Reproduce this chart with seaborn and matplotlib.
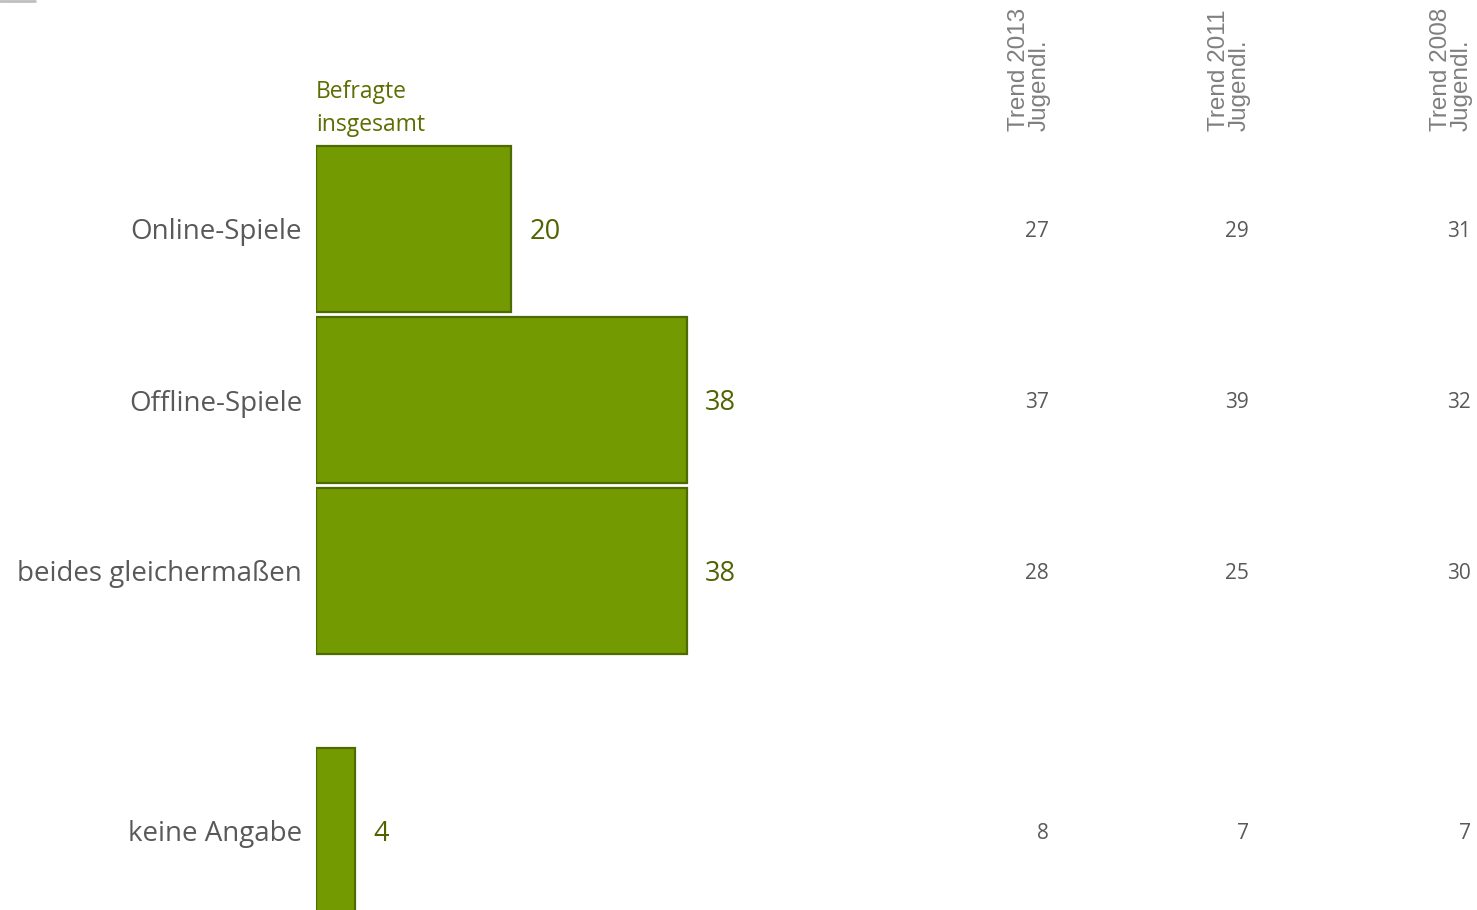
import matplotlib
matplotlib.use("Agg")
import matplotlib.pyplot as plt
import seaborn as sns
import pandas as pd
from matplotlib.lines import Line2D

# Data
categories = ["Online-Spiele", "Offline-Spiele", "beides gleichermaßen", "keine Angabe"]
befragte = [20, 38, 38, 4]
row_pos = [0, 1, 2, 3.52]   # keine Angabe sits a bit lower, as in the original
trend_headers = ["Trend 2013\nJugendl.", "Trend 2011\nJugendl.", "Trend 2008\nJugendl."]
trend_2013 = [27, 37, 28, 8]
trend_2011 = [29, 39, 25, 7]
trend_2008 = [31, 32, 30, 7]

df = pd.DataFrame({"Kategorie": categories, "Wert": befragte, "pos": row_pos})

sns.set_style("white")
plt.rcParams["font.family"] = ["Open Sans", "DejaVu Sans"]

W, H = 1477, 910
fig = plt.figure(figsize=(W / 100, H / 100), dpi=100)
ax = fig.add_axes([316 / W, 0, 1 - 316 / W, 1])

sns.barplot(data=df, x="Wert", y="pos", orient="h", native_scale=True,
            width=0.965, color="#739a00", saturation=1,
            edgecolor="#4e6a00", linewidth=1.6, ax=ax)

ax.set_xlim(0, (W - 316) / 9.75)
ax.set_ylim((H - 229) / 171, -229 / 171)
ax.set_yticks(row_pos)
ax.set_yticklabels(categories, fontsize=20, color="#595959")
ax.tick_params(axis="y", length=0, pad=10)
ax.set_xticks([])
ax.set_xlabel("")
ax.set_ylabel("")
sns.despine(ax=ax, left=True, bottom=True)

# value labels next to the bars
for v, p in zip(befragte, row_pos):
    ax.annotate(f"{v}", (v, p), xytext=(13.5, -2), textcoords="offset points",
                ha="left", va="center", fontsize=19.5, color="#4f6400")

# heading over the bars
ax.text(0, -0.54, "Befragte\ninsgesamt", ha="left", va="bottom",
        fontsize=16.5, color="#5c6e00", linespacing=1.5)

# trend columns (right aligned)
col_x = [1049, 1249, 1471]
for cx, head, vals in zip(col_x, trend_headers, [trend_2013, trend_2011, trend_2008]):
    xf = (cx - 316) / (W - 316)
    for v, p in zip(vals, row_pos):
        ax.annotate(f"{v}", (xf, p), xycoords=ax.get_yaxis_transform(),
                    xytext=(0, -2), textcoords="offset points",
                    ha="right", va="center", fontsize=15, color="#595959")
    fig.text((cx + 2) / W, 1 - 131 / H, head, rotation=90, ha="right", va="bottom",
             multialignment="left", fontsize=17.5, color="#7f7f7f", linespacing=0.95,
             family=["Liberation Sans", "DejaVu Sans"])

# small grey mark at the top left
fig.add_artist(Line2D([0, 35 / W], [1 - 1 / H, 1 - 1 / H], transform=fig.transFigure,
                      color="#bfbfbf", linewidth=2))

fig.savefig("out.png", dpi=100)
